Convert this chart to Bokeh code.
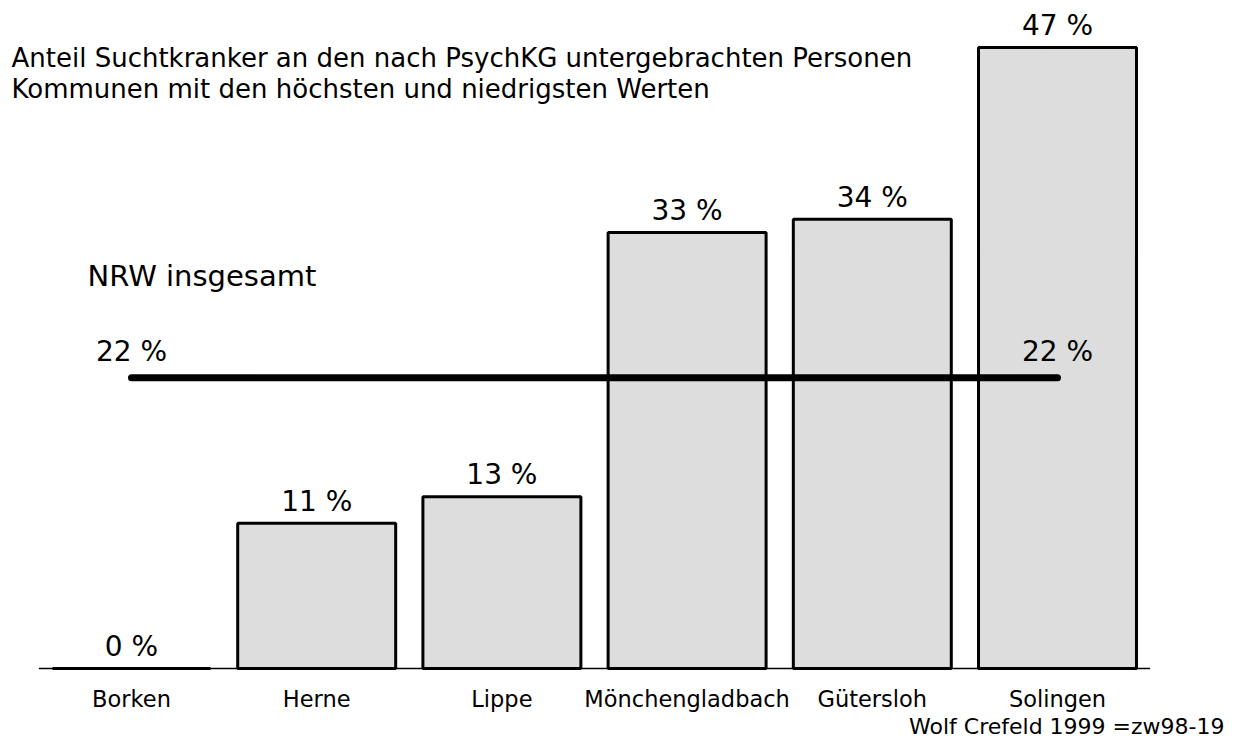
from bokeh.plotting import figure
from bokeh.models import ColumnDataSource, Label
from bokeh.core.properties import value
from bokeh.embed import file_html
from bokeh.resources import INLINE

# --- data ---
categories = ["Borken", "Herne", "Lippe", "Mönchengladbach", "Gütersloh", "Solingen"]
shares = [0, 11, 13, 33, 34, 47]
share_labels = ["0 %", "11 %", "13 %", "33 %", "34 %", "47 %"]
nrw_total = 22
nrw_label = "22 %"
title_lines = ["Anteil Suchtkranker an den nach PsychKG untergebrachten Personen",
               "Kommunen mit den höchsten und niedrigsten Werten"]
nrw_caption = "NRW insgesamt"
footnote = "Wolf Crefeld 1999  =zw98-19"

FONT = "DejaVu Sans"
W, H = 1232, 742

xs = list(range(len(categories)))
src = ColumnDataSource(dict(x=xs, top=shares, lab=share_labels, cat=categories))

p = figure(width=W, height=H, output_backend="svg", toolbar_location=None,
           x_range=(-0.70734, 5.9449), y_range=(-5.6006, 50.556),
           x_axis_type=None, y_axis_type=None, min_border=0)
p.outline_line_color = None
p.xgrid.visible = False
p.ygrid.visible = False
p.background_fill_color = "white"
p.border_fill_color = "white"

# baseline
p.segment(x0=[-0.5], y0=[0], x1=[5.5], y1=[0], line_color="black", line_width=1.5)

# bars
p.vbar(x="x", top="top", bottom=0, width=0.853, source=src,
       fill_color="#dddddd", line_color="black", line_width=3)

# value labels
p.text(x="x", y="top", text="lab", source=src, text_align="center",
       text_baseline="alphabetic", y_offset=-22,
       text_font=value(FONT), text_font_size=value("28px"), text_color="black")

# category labels
p.text(x="x", y=0, text="cat", source=src, text_align="center",
       text_baseline="alphabetic", y_offset=31,
       text_font=value(FONT), text_font_size=value("22.5px"), text_color="black")

# NRW average line
p.line(x=[xs[0], xs[-1]], y=[nrw_total, nrw_total], line_color="black",
       line_width=7, line_cap="round")
p.text(x=[xs[0], xs[-1]], y=[nrw_total, nrw_total], text=[nrw_label, nrw_label],
       text_align="center", text_baseline="alphabetic", y_offset=-26,
       text_font=value(FONT), text_font_size=value("28px"), text_color="black")

p.add_layout(Label(x=xs[0], y=nrw_total, x_offset=-44, y_offset=102, text=nrw_caption,
                   text_font=FONT, text_font_size="29px", text_color="black",
                   text_baseline="alphabetic"))

# title
p.add_layout(Label(x=11, y=685, x_units="screen", y_units="screen", text=title_lines[0],
                   text_font=FONT, text_font_size="26px", text_color="black",
                   text_baseline="alphabetic"))
p.add_layout(Label(x=11, y=654, x_units="screen", y_units="screen", text=title_lines[1],
                   text_font=FONT, text_font_size="26px", text_color="black",
                   text_baseline="alphabetic"))

# footnote
p.add_layout(Label(x=1231, y=16, x_units="screen", y_units="screen", text=footnote,
                   text_font=FONT, text_font_size="22px", text_color="black",
                   text_align="right", text_baseline="alphabetic"))

open("out.html", "w").write(file_html(p, INLINE))
